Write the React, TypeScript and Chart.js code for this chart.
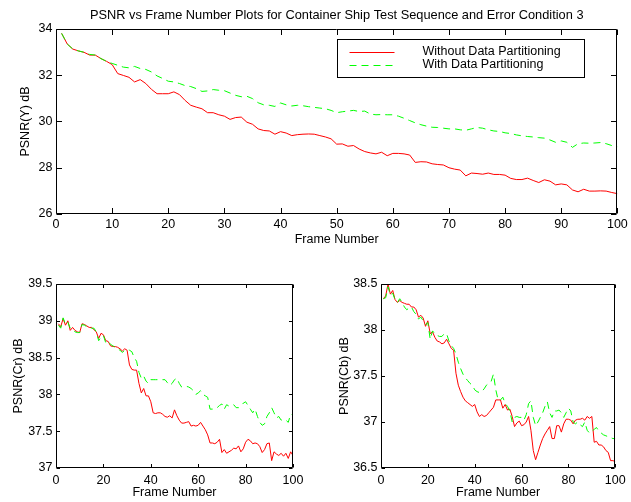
import React, { useEffect, useRef } from "react";
import { Chart, registerables } from "chart.js";

Chart.register(...registerables);

const FONT = '"Liberation Sans", Arial, Helvetica, sans-serif';
const AXIS_FONT_SIZE = 12.5;
const TITLE_FONT_SIZE = 12.8;
const RED = "#ff0000";
const GREEN = "#00ff00";

const MAIN_TITLE =
  "PSNR vs Frame Number Plots for Container Ship Test Sequence and Error Condition 3";
const SERIES_NAMES = ["Without Data Partitioning", "With Data Partitioning"];
const X_TITLE = "Frame Number";

// frame index 1..100
const FRAMES = Array.from({ length: 100 }, (_, i) => i + 1);

// PSNR(Y) dB
const Y_WITHOUT = [
  33.81, 33.35, 33.13, 33.05, 32.99, 32.87, 32.87, 32.72, 32.6, 32.46,
  32.07, 31.99, 31.91, 31.71, 31.81, 31.64, 31.39, 31.2, 31.2, 31.2,
  31.28, 31.16, 30.91, 30.7, 30.62, 30.55, 30.38, 30.38, 30.29, 30.23,
  30.09, 30.17, 30.19, 29.97, 29.88, 29.68, 29.61, 29.59, 29.45, 29.56,
  29.5, 29.39, 29.43, 29.45, 29.46, 29.45, 29.39, 29.33, 29.25, 29.02,
  29.03, 28.93, 28.96, 28.81, 28.7, 28.64, 28.6, 28.67, 28.52, 28.62,
  28.62, 28.6, 28.55, 28.23, 28.26, 28.25, 28.17, 28.14, 28.12, 28.0,
  27.94, 27.9, 27.65, 27.77, 27.75, 27.72, 27.77, 27.71, 27.71, 27.68,
  27.54, 27.49, 27.49, 27.55, 27.45, 27.36, 27.48, 27.42, 27.26, 27.3,
  27.26, 27.04, 26.96, 27.07, 26.99, 26.99, 27.0, 26.99, 26.93, 26.88,
];
const Y_WITH = [
  33.81, 33.35, 33.13, 33.05, 32.99, 32.9, 32.87, 32.72, 32.6, 32.51,
  32.43, 32.35, 32.32, 32.38, 32.29, 32.25, 32.14, 31.97, 31.86, 31.74,
  31.71, 31.64, 31.55, 31.51, 31.42, 31.3, 31.32, 31.38, 31.35, 31.33,
  31.23, 31.13, 31.07, 31.09, 30.99, 30.81, 30.72, 30.7, 30.65, 30.8,
  30.72, 30.67, 30.7, 30.68, 30.64, 30.61, 30.58, 30.55, 30.48, 30.38,
  30.42, 30.45, 30.48, 30.43, 30.45, 30.32, 30.29, 30.3, 30.29, 30.29,
  30.23, 30.14, 30.04, 29.94, 29.86, 29.8, 29.75, 29.74, 29.71, 29.68,
  29.68, 29.64, 29.62, 29.68, 29.74, 29.71, 29.64, 29.59, 29.57, 29.51,
  29.48, 29.42, 29.38, 29.35, 29.33, 29.3, 29.28, 29.2, 29.1, 29.16,
  29.1, 28.88, 29.04, 29.07, 29.06, 29.07, 29.09, 29.04, 28.96, 28.91,
];

// PSNR(Cr) dB
const CR_WITHOUT = [
  38.96, 38.92, 39.03, 38.94, 39.0, 38.87, 38.91, 38.87, 38.85, 38.84,
  38.96, 38.95, 38.93, 38.91, 38.91, 38.88, 38.85, 38.76, 38.83, 38.81,
  38.73, 38.72, 38.66, 38.65, 38.65, 38.64, 38.62, 38.59, 38.62, 38.6,
  38.4, 38.34, 38.33, 38.33, 38.15, 38.02, 38.08, 37.98, 37.98, 37.9,
  37.75, 37.74, 37.75, 37.75, 37.73, 37.7, 37.69, 37.71, 37.68, 37.79,
  37.71, 37.65, 37.61, 37.61, 37.62, 37.63, 37.57, 37.58, 37.57, 37.58,
  37.62, 37.57, 37.52, 37.45, 37.34, 37.34, 37.33, 37.35, 37.39, 37.21,
  37.25, 37.2, 37.22, 37.24, 37.27, 37.26, 37.3, 37.22, 37.26, 37.35,
  37.39, 37.37, 37.33, 37.34, 37.33, 37.29, 37.21, 37.25, 37.33, 37.34,
  37.1, 37.22, 37.19, 37.17, 37.2, 37.16, 37.2, 37.13, 37.22, 37.17,
];
const CR_WITH = [
  38.94, 38.9, 39.04, 38.95, 38.98, 38.9, 38.88, 38.85, 38.84, 38.84,
  38.95, 38.94, 38.92, 38.9, 38.9, 38.9, 38.85, 38.73, 38.78, 38.8,
  38.7, 38.72, 38.68, 38.66, 38.64, 38.62, 38.6, 38.57, 38.6, 38.61,
  38.6, 38.58, 38.5, 38.45, 38.3, 38.22, 38.25, 38.18, 38.15, 38.2,
  38.2, 38.2, 38.2, 38.2, 38.2, 38.2, 38.16, 38.12, 38.15, 38.2,
  38.22, 38.15, 38.1, 38.1, 38.11, 38.1, 38.08, 38.05, 38.0, 38.02,
  38.05, 38.0, 37.98, 37.96, 37.8, 37.8, 37.8, 37.82, 37.85, 37.87,
  37.8, 37.86, 37.84, 37.85, 37.86, 37.82, 37.82, 37.84, 37.88, 37.9,
  37.85, 37.8, 37.75, 37.8, 37.7, 37.62, 37.58, 37.6, 37.7, 37.75,
  37.82, 37.75, 37.68, 37.7, 37.65, 37.66, 37.65, 37.62, 37.73, 37.72,
];

// PSNR(Cb) dB
const CB_WITHOUT = [
  38.34, 38.37, 38.5, 38.39, 38.43, 38.33, 38.3, 38.32, 38.3, 38.29,
  38.28, 38.28, 38.25, 38.25, 38.22, 38.14, 38.16, 38.13, 38.04, 38.1,
  37.96, 37.98, 37.92, 37.88, 37.87, 37.85, 37.86, 37.9, 37.85, 37.8,
  37.78, 37.53, 37.4, 37.33, 37.27, 37.23, 37.21, 37.19, 37.17, 37.19,
  37.11, 37.06, 37.08, 37.06, 37.07, 37.1, 37.13, 37.16, 37.24, 37.24,
  37.24, 37.15, 37.19, 37.13, 37.14, 37.06, 36.95, 36.99, 37.01, 36.96,
  36.97, 37.0, 37.06, 36.91, 36.69, 36.59, 36.67, 36.75, 36.82, 36.87,
  36.91, 36.95, 36.82, 36.82, 36.96, 36.96, 36.89, 36.98, 37.03, 37.03,
  37.02, 36.98, 37.02, 37.03, 37.03, 37.04, 37.02, 37.06, 37.04, 37.06,
  36.78, 36.79, 36.75, 36.75, 36.73, 36.69, 36.67, 36.58, 36.58, 36.57,
];
const CB_WITH = [
  38.34, 38.35, 38.47, 38.38, 38.4, 38.33, 38.3, 38.34, 38.3, 38.25,
  38.22, 38.24, 38.25, 38.2, 38.17, 38.12, 38.14, 38.1, 38.06, 38.08,
  37.9, 37.99, 37.96, 37.94, 37.93, 37.93, 37.96, 37.96, 37.88, 37.83,
  37.8, 37.74, 37.65, 37.58, 37.52, 37.48, 37.45, 37.42, 37.4, 37.35,
  37.33, 37.32, 37.33, 37.36, 37.4, 37.42, 37.44, 37.52, 37.35, 37.24,
  37.24, 37.27, 37.2, 37.17, 37.12, 37.0, 37.05, 37.06, 37.05, 37.05,
  37.02, 37.08, 37.2, 37.23, 37.05, 36.96, 37.0, 37.05, 37.1, 37.17,
  37.22, 37.1, 37.05, 37.12, 37.12, 37.13, 37.1, 37.05, 37.1, 37.15,
  37.12, 37.0, 36.98, 37.0, 36.97, 36.95, 37.0, 36.91, 36.88, 36.9,
  36.92, 36.94, 36.9, 36.88, 36.86, 36.85, 36.84, 36.83, 36.82, 36.82,
];

const DASH = [7, 5];

// Box around the plot area with inward tick marks on all four sides.
const boxTicks = {
  id: "boxTicks",
  afterDatasetsDraw(chart: any, _args: any, opts: any) {
    const { ctx, chartArea: a, scales } = chart;
    const len = opts.len ?? 5;
    const L = Math.round(a.left) + 0.5;
    const R = Math.round(a.right) - 0.5;
    const T = Math.round(a.top) + 0.5;
    const B = Math.round(a.bottom) - 0.5;
    ctx.save();
    ctx.strokeStyle = "#000";
    ctx.lineWidth = 1;
    ctx.beginPath();
    ctx.rect(L, T, R - L, B - T);
    for (const t of scales.x.ticks) {
      const px = Math.round(scales.x.getPixelForValue(t.value)) + 0.5;
      ctx.moveTo(px, B);
      ctx.lineTo(px, B - len);
      ctx.moveTo(px, T);
      ctx.lineTo(px, T + len);
    }
    for (const t of scales.y.ticks) {
      const py = Math.round(scales.y.getPixelForValue(t.value)) + 0.5;
      ctx.moveTo(L, py);
      ctx.lineTo(L + len, py);
      ctx.moveTo(R, py);
      ctx.lineTo(R - len, py);
    }
    ctx.stroke();
    ctx.restore();
  },
};

// Boxed legend drawn inside the plot area.
const boxLegend = {
  id: "boxLegend",
  afterDraw(chart: any, _args: any, opts: any) {
    if (!opts || !opts.show) return;
    const { ctx, chartArea: a } = chart;
    const x0 = Math.round(a.left + opts.dx) + 0.5;
    const y0 = Math.round(a.top + opts.dy) + 0.5;
    const w = opts.w;
    const h = opts.h;
    ctx.save();
    ctx.fillStyle = "#fff";
    ctx.fillRect(x0, y0, w, h);
    ctx.strokeStyle = "#000";
    ctx.lineWidth = 1;
    ctx.strokeRect(x0, y0, w, h);
    ctx.font = `${AXIS_FONT_SIZE}px ${FONT}`;
    ctx.textBaseline = "middle";
    ctx.textAlign = "left";
    const sets = [...chart.data.datasets].sort((p: any, q: any) => p.legendIndex - q.legendIndex);
    sets.forEach((ds: any, i: number) => {
      const y = y0 + 12.5 + i * 13;
      ctx.beginPath();
      ctx.strokeStyle = ds.borderColor;
      ctx.setLineDash(ds.borderDash || []);
      ctx.moveTo(x0 + 12, Math.round(y) + 0.5);
      ctx.lineTo(x0 + 57, Math.round(y) + 0.5);
      ctx.stroke();
      ctx.setLineDash([]);
      ctx.fillStyle = "#000";
      ctx.fillText(ds.label, x0 + 85, y);
    });
    ctx.restore();
  },
};

type PanelSpec = {
  without: number[];
  withDP: number[];
  yMin: number;
  yMax: number;
  yStep: number;
  xStep: number;
  yTitle: string;
  yTitlePad: number;
  padding: { left: number; right: number; top: number; bottom: number };
  xHeight: number;
  xTickPad: number;
  xTitlePad: number;
  tickLen: number;
  title?: string;
  legend?: boolean;
};

// 39 rather than 39.0, 38.5 stays 38.5
const plainNumber = (v: number | string) => String(Number(Number(v).toFixed(3)));

function makeConfig(p: PanelSpec): any {
  const font = { family: FONT, size: AXIS_FONT_SIZE, weight: "normal" as const };
  const series = (vals: number[]) => FRAMES.map((f, i) => ({ x: f, y: vals[i] }));
  return {
    type: "line",
    data: {
      datasets: [
        {
          label: SERIES_NAMES[0],
          legendIndex: 0,
          data: series(p.without),
          borderColor: RED,
          borderWidth: 1,
          pointRadius: 0,
          tension: 0,
          order: 1,
        },
        {
          label: SERIES_NAMES[1],
          legendIndex: 1,
          data: series(p.withDP),
          borderColor: GREEN,
          borderWidth: 1,
          borderDash: DASH,
          pointRadius: 0,
          tension: 0,
          order: 0,
        },
      ],
    },
    options: {
      responsive: false,
      animation: false,
      events: [],
      layout: { padding: p.padding, autoPadding: false },
      scales: {
        x: {
          type: "linear",
          min: 0,
          max: 100,
          grid: { display: false, drawTicks: false, tickLength: 0 },
          border: { display: false },
          ticks: {
            stepSize: p.xStep,
            autoSkip: false,
            maxRotation: 0,
            padding: p.xTickPad,
            color: "#000",
            font,
            callback: plainNumber,
          },
          title: {
            display: true,
            text: X_TITLE,
            color: "#000",
            font,
            padding: { top: 0, bottom: p.xTitlePad },
          },
          afterFit(scale: any) {
            scale.height = p.xHeight;
          },
        },
        y: {
          type: "linear",
          min: p.yMin,
          max: p.yMax,
          grid: { display: false, drawTicks: false, tickLength: 0 },
          border: { display: false },
          ticks: {
            stepSize: p.yStep,
            padding: 3.5,
            color: "#000",
            font,
            callback: plainNumber,
          },
          title: {
            display: true,
            text: p.yTitle,
            color: "#000",
            font,
            padding: { top: p.yTitlePad, bottom: 0 },
          },
          afterFit(scale: any) {
            scale.width = 56;
          },
        },
      },
      plugins: {
        legend: { display: false },
        tooltip: { enabled: false },
        title: p.title
          ? {
              display: true,
              text: p.title,
              fullSize: false,
              color: "#000",
              font: { family: FONT, size: TITLE_FONT_SIZE, weight: "normal" },
              padding: { top: 7.3, bottom: 6.3 },
            }
          : { display: false },
        boxTicks: { len: p.tickLen },
        boxLegend: { show: !!p.legend, dx: 281, dy: 10, w: 247, h: 38 },
      },
    },
    plugins: [boxTicks, boxLegend],
  };
}

const PANELS: PanelSpec[] = [
  {
    without: Y_WITHOUT,
    withDP: Y_WITH,
    yMin: 26,
    yMax: 34,
    yStep: 2,
    xStep: 10,
    yTitle: "PSNR(Y) dB",
    yTitlePad: 18,
    padding: { left: 0, right: 12, top: 0, bottom: 252 },
    xHeight: 36,
    xTickPad: 3.2,
    xTitlePad: 2.5,
    tickLen: 5.5,
    title: MAIN_TITLE,
    legend: true,
  },
  {
    without: CR_WITHOUT,
    withDP: CR_WITH,
    yMin: 37,
    yMax: 39.5,
    yStep: 0.5,
    xStep: 20,
    yTitle: "PSNR(Cr) dB",
    yTitlePad: 10.8,
    padding: { left: 0, right: 338, top: 284, bottom: 0 },
    xHeight: 34,
    xTickPad: 5.3,
    xTitlePad: 1.8,
    tickLen: 3.5,
  },
  {
    without: CB_WITHOUT,
    withDP: CB_WITH,
    yMin: 36.5,
    yMax: 38.5,
    yStep: 0.5,
    xStep: 20,
    yTitle: "PSNR(Cb) dB",
    yTitlePad: 12,
    padding: { left: 325, right: 12, top: 284, bottom: 0 },
    xHeight: 34,
    xTickPad: 5.3,
    xTitlePad: 1.8,
    tickLen: 3.5,
  },
];

export default function App() {
  const refs = [useRef<HTMLCanvasElement>(null), useRef<HTMLCanvasElement>(null), useRef<HTMLCanvasElement>(null)];

  useEffect(() => {
    const charts = PANELS.map((p, i) => new Chart(refs[i].current as HTMLCanvasElement, makeConfig(p)));
    return () => charts.forEach((c) => c.destroy());
  }, []);

  return (
    <div
      style={{
        position: "fixed",
        left: 0,
        top: 0,
        width: 631,
        height: 502,
        background: "#fff",
        overflow: "hidden",
      }}
    >
      {refs.map((r, i) => (
        <canvas
          key={i}
          ref={r}
          width={631}
          height={502}
          style={{ position: "absolute", left: 0, top: 0, width: 631, height: 502 }}
        />
      ))}
    </div>
  );
}
